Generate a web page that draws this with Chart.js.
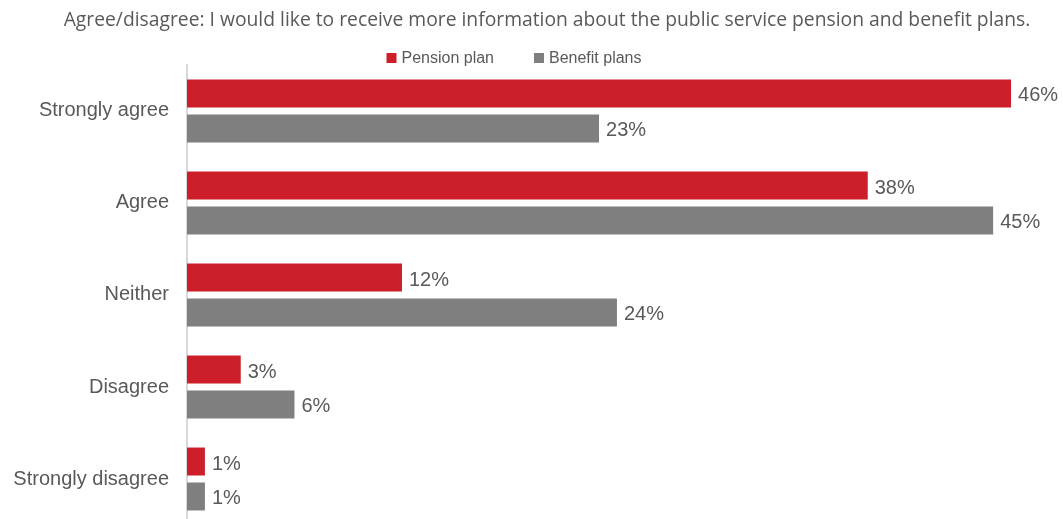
<!DOCTYPE html>
<html>
<head>
<meta charset="utf-8">
<script src="https://cdn.jsdelivr.net/npm/chart.js@4/dist/chart.umd.min.js"></script>
<style>
  html, body { margin: 0; padding: 0; background: #fff; overflow: hidden; }
</style>
</head>
<body>
<canvas id="surveyChart" width="1063" height="555"></canvas>
<script>
const answers = ['Strongly agree', 'Agree', 'Neither', 'Disagree', 'Strongly disagree'];
const pensionPlan = [46, 38, 12, 3, 1];
const benefitPlans = [23, 45, 24, 6, 1];

const red = '#cc1f2a';
const grey = '#7f7f7f';
const textGrey = '#595959';
const labelFont = '"Liberation Sans", Arial, sans-serif';

// writes the percentage just past the end of each bar
const valueLabels = {
  id: 'valueLabels',
  afterDatasetsDraw(chart) {
    const ctx = chart.ctx;
    ctx.save();
    ctx.font = '20px ' + labelFont;
    ctx.fillStyle = textGrey;
    ctx.textAlign = 'left';
    ctx.textBaseline = 'middle';
    chart.data.datasets.forEach(function (ds, i) {
      chart.getDatasetMeta(i).data.forEach(function (bar, j) {
        ctx.fillText(ds.data[j] + '%', bar.x + 7, bar.y + 2.5);
      });
    });
    ctx.restore();
  }
};

// small legend row under the title, a bit left of centre
const keyRow = {
  id: 'keyRow',
  afterDraw(chart) {
    const ctx = chart.ctx;
    const sets = chart.data.datasets;
    const gap = 40;
    ctx.save();
    ctx.font = '16px ' + labelFont;
    ctx.textBaseline = 'middle';
    let total = 0;
    sets.forEach(function (ds, i) {
      total += 15 + ctx.measureText(ds.label).width + (i < sets.length - 1 ? gap : 0);
    });
    let x = 514 - total / 2;
    const y = 58;
    sets.forEach(function (ds) {
      ctx.fillStyle = ds.backgroundColor;
      ctx.fillRect(x, y - 5, 10, 10);
      ctx.fillStyle = textGrey;
      ctx.fillText(ds.label, x + 15, y + 1);
      x += 15 + ctx.measureText(ds.label).width + gap;
    });
    ctx.restore();
  }
};

let ctx = document.getElementById('surveyChart').getContext('2d');

let survey = new Chart(ctx, {
  type: 'bar',
  data: {
    labels: answers,
    datasets: [
      { label: 'Pension plan', data: pensionPlan, backgroundColor: red },
      { label: 'Benefit plans', data: benefitPlans, backgroundColor: grey }
    ]
  },
  plugins: [valueLabels, keyRow],
  options: {
    indexAxis: 'y',
    responsive: false,
    animation: false,
    categoryPercentage: 0.76,
    barPercentage: 0.8,
    layout: { padding: { left: 0, right: -31, top: 0, bottom: 0 } },
    plugins: {
      title: {
        display: true,
        text: 'Agree/disagree: I would like to receive more information about the public service pension and benefit plans.',
        color: textGrey,
        font: { family: '"Open Sans", sans-serif', size: 19.3, weight: 'normal', lineHeight: 1.2 },
        padding: { top: 8.6, bottom: 33.2 }
      },
      legend: { display: false },
      tooltip: { enabled: false }
    },
    scales: {
      x: {
        display: false,
        min: 0,
        max: 48.9
      },
      y: {
        afterFit: function (scale) { scale.width = 187; },
        grid: { display: false, drawTicks: false },
        border: { display: true, color: '#d9d9d9', width: 2 },
        ticks: {
          color: textGrey,
          padding: 18,
          font: { family: labelFont, size: 20 }
        }
      }
    }
  }
});
</script>
</body>
</html>
